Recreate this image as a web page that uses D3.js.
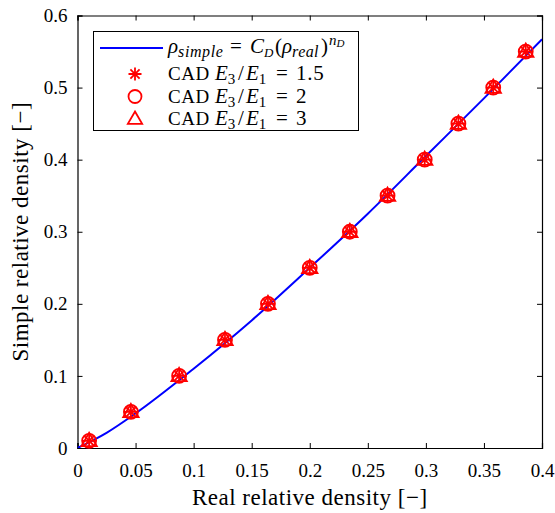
<!DOCTYPE html>
<html>
<head>
<meta charset="utf-8">
<script src="https://cdn.jsdelivr.net/npm/d3@7"></script>
<style>
  body { margin: 0; background: #fff; }
</style>
</head>
<body>
<div id="chart"></div>
<script>
// CAD points (real density, simple density) - all three E3/E1 series sit on top of each other
const realDensity = [0.010, 0.046, 0.0875, 0.127, 0.164, 0.200, 0.2345, 0.267, 0.299, 0.328, 0.358, 0.386];
const simpleE15 = [0.01, 0.05, 0.10, 0.15, 0.20, 0.25, 0.30, 0.35, 0.40, 0.45, 0.50, 0.55];
const simpleE2 = [0.01, 0.05, 0.10, 0.15, 0.20, 0.25, 0.30, 0.35, 0.40, 0.45, 0.50, 0.55];
const simpleE3 = [0.01, 0.05, 0.10, 0.15, 0.20, 0.25, 0.30, 0.35, 0.40, 0.45, 0.50, 0.55];

// fitted curve
const fitX = [0, 0.025, 0.05, 0.1, 0.15, 0.2, 0.25, 0.3, 0.35, 0.4];
const fitY = [0, 0.021, 0.048, 0.11, 0.177, 0.25, 0.325, 0.405, 0.485, 0.567];

const xTicks = [0, 0.05, 0.1, 0.15, 0.2, 0.25, 0.3, 0.35, 0.4];
const yTicks = [0, 0.1, 0.2, 0.3, 0.4, 0.5, 0.6];

const W = 555, H = 513;
const margin = {top: 15.5, right: 13, bottom: 65, left: 77.5};
const width = W - margin.left - margin.right;
const height = H - margin.top - margin.bottom;
const FONT = '"Liberation Serif", "DejaVu Serif", serif';

const svg = d3.select("#chart").append("svg")
    .attr("width", W)
    .attr("height", H)
    .attr("font-family", FONT);

const g = svg.append("g")
    .attr("transform", `translate(${margin.left},${margin.top})`);

const x = d3.scaleLinear().domain([0, 0.4]).range([0, width]);
const y = d3.scaleLinear().domain([0, 0.6]).range([height, 0]);

// axes with inward ticks
const fmt = d => String(+d.toFixed(2));
const xAxis = d3.axisBottom(x).tickValues(xTicks).tickSize(-5).tickPadding(16).tickFormat(fmt);
const yAxis = d3.axisLeft(y).tickValues(yTicks).tickSize(-5).tickPadding(10).tickFormat(fmt);

g.append("g").attr("class", "axis").attr("transform", `translate(0,${height})`).call(xAxis);
g.append("g").attr("class", "axis").call(yAxis);
// mirrored ticks on top and right
g.append("g").attr("class", "axis").call(d3.axisTop(x).tickValues(xTicks).tickSize(-5).tickFormat(""));
g.append("g").attr("class", "axis").attr("transform", `translate(${width},0)`)
    .call(d3.axisRight(y).tickValues(yTicks).tickSize(-5).tickFormat(""));

g.selectAll(".axis").attr("font-family", FONT).attr("font-size", 19);
g.selectAll(".domain").attr("stroke", "#000").attr("stroke-width", 1.2);
g.selectAll(".tick line").attr("stroke", "#000").attr("stroke-width", 1);
g.selectAll(".tick text").attr("fill", "#000").attr("font-family", FONT);

// clip for the curve
g.append("clipPath").attr("id", "clip")
    .append("rect").attr("width", width).attr("height", height);

// fitted line
const fitData = fitX.map((v, i) => [v, fitY[i]]);
g.append("path")
    .datum(fitData)
    .attr("clip-path", "url(#clip)")
    .attr("fill", "none")
    .attr("stroke", "#0000ff")
    .attr("stroke-width", 2)
    .attr("d", d3.line().x(d => x(d[0])).y(d => y(d[1])).curve(d3.curveMonotoneX));

// marker drawers
function drawStar(sel, s) {
    const r = s / 2;
    const d = r * 0.7071;
    sel.append("path")
        .attr("d", `M${-r},0L${r},0M0,${-r}L0,${r}M${-d},${-d}L${d},${d}M${-d},${d}L${d},${-d}`)
        .attr("stroke", "#ff0000").attr("stroke-width", 1.8).attr("fill", "none");
}
function drawCircle(sel, s) {
    sel.append("circle").attr("r", s / 2)
        .attr("stroke", "#ff0000").attr("stroke-width", 1.8).attr("fill", "none");
}
function drawTriangle(sel, s) {
    const r = s / 2;
    sel.append("path")
        .attr("d", `M0,${-r * 1.15}L${r * 1.1},${r * 0.75}L${-r * 1.1},${r * 0.75}Z`)
        .attr("stroke", "#ff0000").attr("stroke-width", 1.8).attr("fill", "none");
}

const series = [
    {vals: simpleE15, draw: drawStar, label: "1.5"},
    {vals: simpleE2, draw: drawCircle, label: "2"},
    {vals: simpleE3, draw: drawTriangle, label: "3"}
];

series.forEach(s => {
    const pts = g.selectAll(null)
        .data(realDensity.map((v, i) => [v, s.vals[i]]))
        .enter().append("g")
        .attr("transform", d => `translate(${x(d[0])},${y(d[1])})`);
    pts.each(function() { s.draw(d3.select(this), 14); });
});

// axis labels
svg.append("text")
    .attr("x", margin.left + width / 2)
    .attr("y", 505)
    .attr("text-anchor", "middle")
    .attr("font-size", 23)
    .style("letter-spacing", "0.5px")
    .text("Real relative density [\u2212]");

svg.append("text")
    .attr("transform", `translate(28,${margin.top + height / 2}) rotate(-90)`)
    .attr("text-anchor", "middle")
    .attr("font-size", 23)
    .style("letter-spacing", "0.5px")
    .text("Simple relative density [\u2212]");

// legend
const leg = svg.append("g");
leg.append("rect")
    .attr("x", 93.5).attr("y", 31.5)
    .attr("width", 265).attr("height", 99)
    .attr("fill", "#fff").attr("stroke", "#000").attr("stroke-width", 1);

leg.append("line")
    .attr("x1", 100).attr("x2", 163).attr("y1", 48).attr("y2", 48)
    .attr("stroke", "#0000ff").attr("stroke-width", 2);

// legend label pieces with math-style spacing
const t0 = leg.append("text").attr("y", 53).attr("font-size", 21);
t0.append("tspan").attr("x", 168).style("font-style", "italic").text("\u03C1");
t0.append("tspan").style("font-style", "italic").attr("font-size", 16).attr("dy", 4)
    .style("letter-spacing", "0.6px").text("simple");
t0.append("tspan").attr("x", 230).attr("dy", -4).text("=");
t0.append("tspan").attr("x", 250).style("font-style", "italic").text("C");
t0.append("tspan").style("font-style", "italic").attr("font-size", 13).attr("dy", 4).text("D");
t0.append("tspan").attr("x", 275).attr("dy", -4).text("(");
t0.append("tspan").attr("x", 282).style("font-style", "italic").text("\u03C1");
t0.append("tspan").style("font-style", "italic").attr("font-size", 16).attr("dy", 4)
    .style("letter-spacing", "0.4px").text("real");
t0.append("tspan").attr("x", 321).attr("dy", -4).text(")");
t0.append("tspan").attr("x", 329).style("font-style", "italic").attr("font-size", 15).attr("dy", -8).text("n");
t0.append("tspan").style("font-style", "italic").attr("font-size", 11).attr("dy", 2).text("D");

const rowY = [74, 96.5, 119];
series.forEach((s, i) => {
    const mg = leg.append("g").attr("transform", `translate(135,${rowY[i]})`);
    s.draw(mg, 13);
    const t = leg.append("text").attr("y", rowY[i] + 6).attr("font-size", 19);
    t.append("tspan").attr("x", 168).style("letter-spacing", "0.5px").text("CAD");
    t.append("tspan").attr("x", 215).attr("font-size", 21).style("font-style", "italic").text("E");
    t.append("tspan").attr("font-size", 15).attr("dy", 4).text("3");
    t.append("tspan").attr("x", 238).attr("font-size", 21).attr("dy", -4).text("/");
    t.append("tspan").attr("x", 246).attr("font-size", 21).style("font-style", "italic").text("E");
    t.append("tspan").attr("font-size", 15).attr("dy", 4).text("1");
    t.append("tspan").attr("x", 276).attr("font-size", 21).attr("dy", -4).text("=");
    t.append("tspan").attr("x", 296).attr("font-size", 21).style("letter-spacing", "0.8px").text(s.label);
});
</script>
</body>
</html>
